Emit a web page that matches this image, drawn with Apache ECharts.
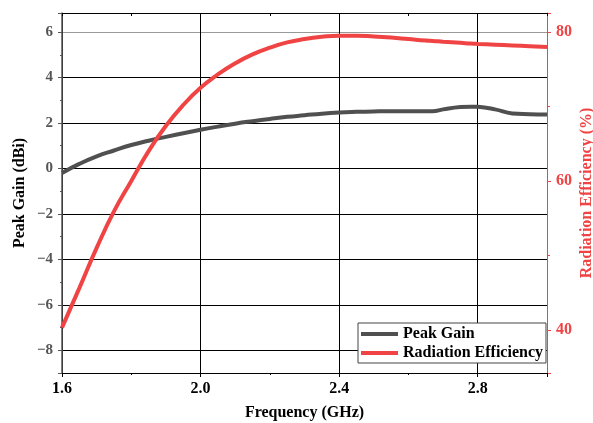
<!DOCTYPE html>
<html>
<head>
<meta charset="utf-8">
<script src="https://cdn.jsdelivr.net/npm/echarts@6/dist/echarts.min.js"></script>
<style>
    html, body { margin: 0; padding: 0; background: #fff; }
    #chart { width: 593px; height: 423px; }
</style>
</head>
<body>
<div id="chart"></div>
<script>
    // 频率 (GHz)
    var freq = [1.6, 1.65, 1.7, 1.75, 1.8, 1.85, 1.9, 1.95, 2.0, 2.05, 2.1, 2.15, 2.2, 2.25, 2.3, 2.35, 2.4,
        2.45, 2.5, 2.55, 2.6, 2.65, 2.67, 2.7, 2.75, 2.78, 2.8, 2.85, 2.9, 2.95, 3.0];
    // Peak Gain (dBi)
    var gain = [-0.2, 0.2, 0.53, 0.79, 1.03, 1.22, 1.39, 1.55, 1.7, 1.84, 1.97, 2.08, 2.18, 2.27, 2.34, 2.41, 2.46,
        2.49, 2.51, 2.52, 2.52, 2.52, 2.52, 2.6, 2.7, 2.72, 2.71, 2.6, 2.42, 2.39, 2.37];
    // Radiation Efficiency (%)
    var effic = [40.3, 45.6, 51.0, 55.9, 60.0, 64.0, 67.4, 70.2, 72.5, 74.3, 75.8, 77.0, 77.9, 78.6, 79.05, 79.35, 79.5,
        79.5, 79.4, 79.25, 79.05, 78.85, 78.8, 78.7, 78.55, 78.45, 78.4, 78.3, 78.2, 78.1, 78.0];

    var xTicks = [1.6, 2.0, 2.4, 2.8];
    var leftTicks = [-8, -6, -4, -2, 0, 2, 4, 6];
    var rightTicks = [40, 60, 80];

    var font = "'Liberation Serif', 'Times New Roman', serif";
    var red = '#f04444';
    var gray = '#555555';

    var gainData = [], efficData = [];
    for (var i = 0; i < freq.length; i++) {
        gainData.push([freq[i], gain[i]]);
        efficData.push([freq[i], effic[i]]);
    }

    // 网格线颜色: 6 那条是灰色
    var splitColors = ['#000', '#000', '#000', '#000', '#000', '#000', '#000', '#000', '#999', '#000'];

    var chart = echarts.init(document.getElementById('chart'), null, {renderer: 'canvas'});
    chart.setOption({
        animation: false,
        grid: {left: 62, right: 46, top: 13, bottom: 50, containLabel: false, outerBoundsMode: 'none'},
        legend: {
            data: ['Peak Gain', 'Radiation Efficiency'],
            orient: 'vertical',
            left: 358,
            top: 323,
            icon: 'rect',
            itemWidth: 37,
            itemHeight: 4,
            itemGap: 3,
            padding: [3, 3, 2, 3],
            borderColor: '#444',
            borderWidth: 1,
            borderRadius: 0,
            backgroundColor: '#fff',
            textStyle: {fontFamily: font, fontWeight: 'bold', fontSize: 16, color: '#000'}
        },
        xAxis: [
            {
                type: 'value', position: 'bottom', min: 1.6, max: 3.0, interval: 0.4,
                name: 'Frequency (GHz)', nameLocation: 'middle', nameGap: 32,
                nameTextStyle: {fontFamily: font, fontWeight: 'bold', fontSize: 16, color: '#000'},
                axisLine: {onZero: false, lineStyle: {color: '#000', width: 1}},
                axisTick: {show: true, inside: false, length: 4, lineStyle: {color: '#000'}},
                minorTick: {show: true, splitNumber: 2, length: 2, lineStyle: {color: '#000'}},
                axisLabel: {
                    margin: 8, fontFamily: font, fontWeight: 'bold', fontSize: 16, color: '#000',
                    formatter: function (v) {
                        for (var k = 0; k < xTicks.length; k++) {
                            if (Math.abs(v - xTicks[k]) < 1e-6) return xTicks[k].toFixed(1);
                        }
                        return '';
                    }
                },
                splitLine: {show: true, lineStyle: {color: '#000', width: 1}}
            },
            {
                type: 'value', position: 'top', min: 1.6, max: 3.0, interval: 0.2,
                axisLine: {onZero: false, lineStyle: {color: '#000', width: 1}},
                axisTick: {show: true, inside: true, length: 3, lineStyle: {color: '#000'}},
                axisLabel: {show: false},
                splitLine: {show: false}
            }
        ],
        yAxis: [
            {
                type: 'value', position: 'left', min: -9, max: 6.84, splitNumber: 8, minInterval: 2, maxInterval: 2,
                name: 'Peak Gain (dBi)', nameLocation: 'middle', nameGap: 34, nameRotate: 90, nameMoveOverlap: false,
                nameTextStyle: {fontFamily: font, fontWeight: 'bold', fontSize: 16, color: '#000'},
                axisLine: {show: true, onZero: false, lineStyle: {color: gray, width: 1.5}},
                axisTick: {show: true, inside: false, length: 4, lineStyle: {color: gray}},
                axisLabel: {
                    margin: 9, fontFamily: font, fontWeight: 'bold', fontSize: 15, color: gray,
                    formatter: function (v) {
                        var r = Math.round(v);
                        if (Math.abs(v - r) < 1e-6 && leftTicks.indexOf(r) >= 0) return r < 0 ? '\u2212' + (-r) : String(r);
                        return '';
                    }
                },
                splitLine: {show: true, lineStyle: {color: splitColors, width: 1}}
            },
            {
                type: 'value', position: 'right', min: 34.2, max: 82.55, splitNumber: 3, minInterval: 20, maxInterval: 20,
                name: 'Radiation Efficiency (%)', nameLocation: 'middle', nameGap: 32, nameRotate: 90, nameMoveOverlap: false,
                nameTextStyle: {fontFamily: font, fontWeight: 'bold', fontSize: 16, color: red},
                axisLine: {show: true, onZero: false, lineStyle: {color: red, width: 1}},
                axisTick: {show: true, inside: false, length: 4, lineStyle: {color: red}},
                axisLabel: {
                    margin: 9, fontFamily: font, fontWeight: 'bold', fontSize: 16, color: red,
                    formatter: function (v) {
                        var r = Math.round(v);
                        if (Math.abs(v - r) < 1e-6 && rightTicks.indexOf(r) >= 0) return String(r);
                        return '';
                    }
                },
                splitLine: {show: false}
            },
            {
                // 左轴小刻度
                type: 'value', position: 'left', min: -9, max: 6.84, interval: 1,
                axisLine: {show: false, onZero: false},
                axisTick: {show: true, inside: false, length: 2, lineStyle: {color: gray}},
                axisLabel: {show: false},
                splitLine: {show: false}
            },
            {
                // 右轴小刻度
                type: 'value', position: 'right', min: 34.2, max: 82.55, splitNumber: 5, minInterval: 10, maxInterval: 10,
                axisLine: {show: false, onZero: false},
                axisTick: {show: true, inside: false, length: 3, lineStyle: {color: red}},
                axisLabel: {show: false},
                splitLine: {show: false}
            }
        ],
        series: [
            {
                name: 'Peak Gain', type: 'line', xAxisIndex: 0, yAxisIndex: 0,
                data: gainData, smooth: 0.5, showSymbol: false, symbol: 'none',
                itemStyle: {color: '#505050'},
                lineStyle: {color: '#505050', width: 4}
            },
            {
                name: 'Radiation Efficiency', type: 'line', xAxisIndex: 0, yAxisIndex: 1,
                data: efficData, smooth: 0.5, showSymbol: false, symbol: 'none',
                itemStyle: {color: red},
                lineStyle: {color: red, width: 4}
            }
        ]
    });
</script>
</body>
</html>
